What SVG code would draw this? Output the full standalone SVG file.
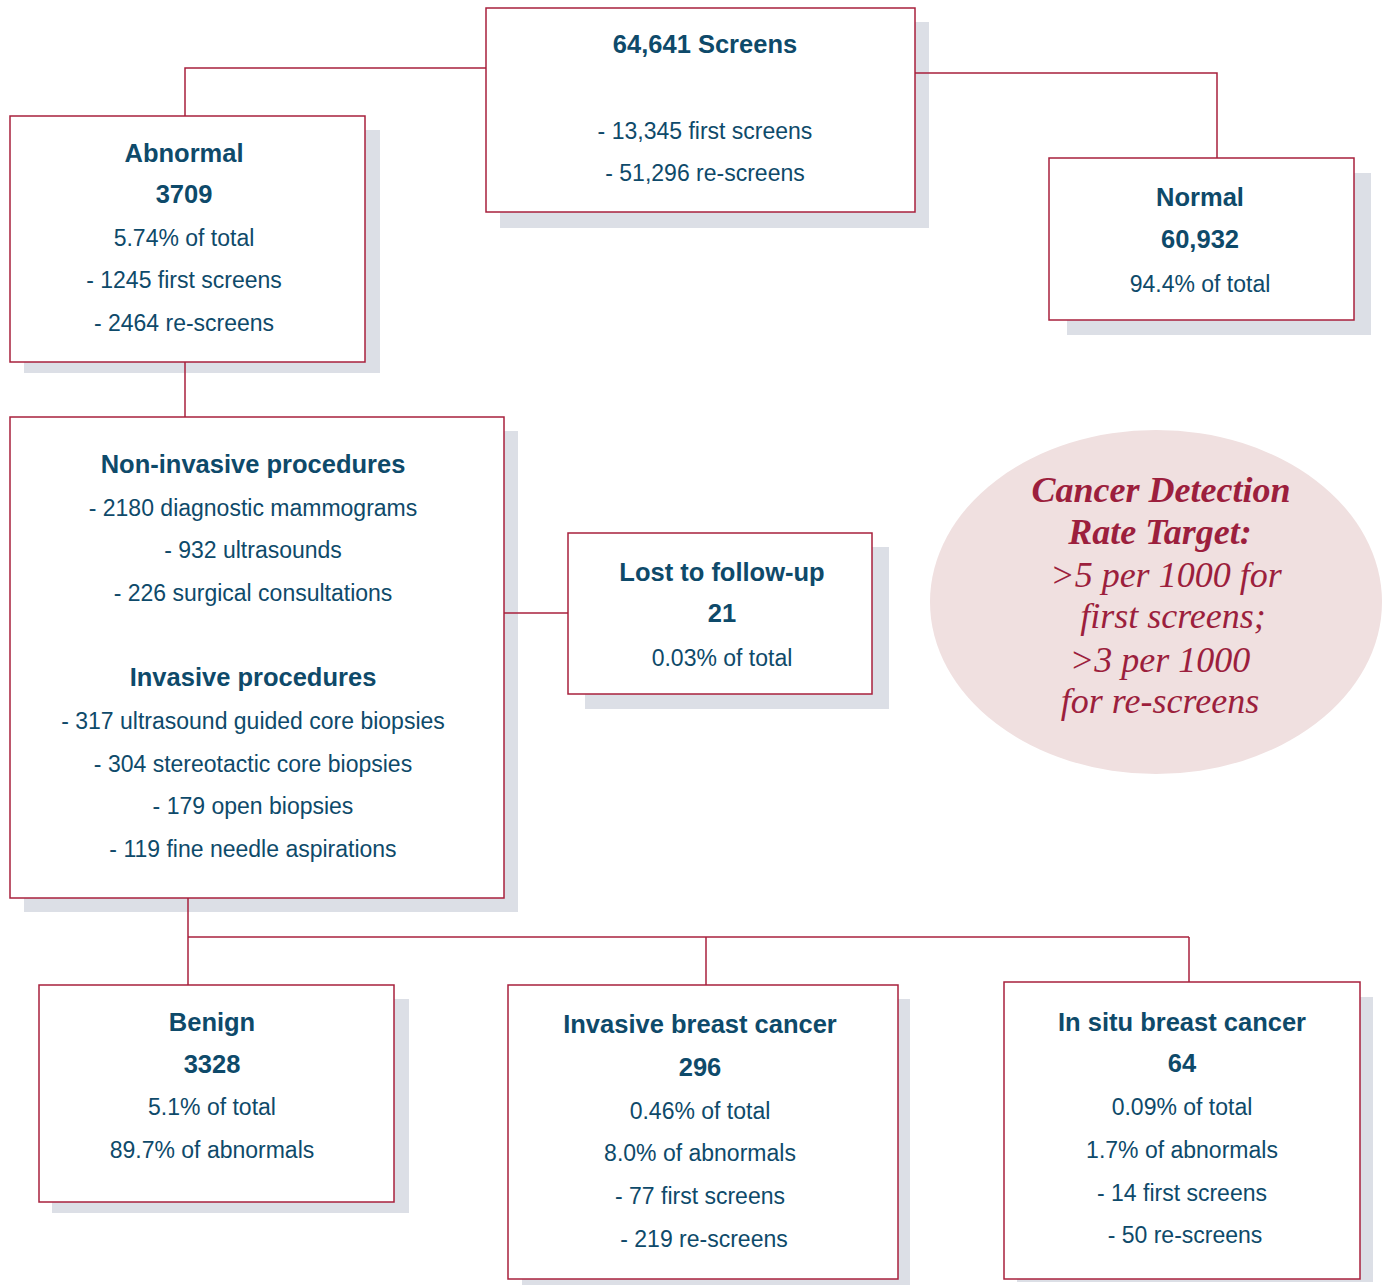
<svg xmlns="http://www.w3.org/2000/svg" width="1383" height="1285" viewBox="0 0 1383 1285">
<style>
.sh{fill:#dcdfe6}
.bx{fill:#fff;stroke:#a8203c;stroke-width:1.5}
.cn{fill:none;stroke:#a8203c;stroke-width:1.5}
text{font-family:"Liberation Sans",Arial,sans-serif;fill:#0e4a6a;text-anchor:middle}
.b{font-weight:bold;font-size:25.5px}
.r{font-size:23px}
.it{font-family:"Liberation Serif","Times New Roman",serif;font-style:italic;fill:#9c1f3d;font-size:36px}
.itb{font-weight:bold}
</style>
<rect width="1383" height="1285" fill="#fff"/>
<g id="screens">
<rect class="sh" x="500" y="22" width="429" height="206"/>
<rect class="bx" x="486" y="8" width="429" height="204"/>
<text class="b" x="705" y="53">64,641 Screens</text>
<text class="r" x="705" y="139">- 13,345 first screens</text>
<text class="r" x="705" y="181">- 51,296 re-screens</text>
</g>
<g id="abnormal">
<rect class="sh" x="24" y="130" width="356" height="243"/>
<rect class="bx" x="10" y="116" width="355" height="246"/>
<text class="b" x="184" y="162">Abnormal</text>
<text class="b" x="184" y="203">3709</text>
<text class="r" x="184" y="246">5.74% of total</text>
<text class="r" x="184" y="288">- 1245 first screens</text>
<text class="r" x="184" y="331">- 2464 re-screens</text>
</g>
<g id="normal">
<rect class="sh" x="1067" y="173" width="304" height="162"/>
<rect class="bx" x="1049" y="158" width="305" height="162"/>
<text class="b" x="1200" y="206">Normal</text>
<text class="b" x="1200" y="248">60,932</text>
<text class="r" x="1200" y="292">94.4% of total</text>
</g>
<g id="procedures">
<rect class="sh" x="24" y="431" width="494" height="481"/>
<rect class="bx" x="10" y="417" width="494" height="481"/>
<text class="b" x="253" y="473">Non-invasive procedures</text>
<text class="r" x="253" y="516">- 2180 diagnostic mammograms</text>
<text class="r" x="253" y="558">- 932 ultrasounds</text>
<text class="r" x="253" y="601">- 226 surgical consultations</text>
<text class="b" x="253" y="686">Invasive procedures</text>
<text class="r" x="253" y="729">- 317 ultrasound guided core biopsies</text>
<text class="r" x="253" y="772">- 304 stereotactic core biopsies</text>
<text class="r" x="253" y="814">- 179 open biopsies</text>
<text class="r" x="253" y="857">- 119 fine needle aspirations</text>
</g>
<g id="lost">
<rect class="sh" x="585" y="547" width="304" height="162"/>
<rect class="bx" x="568" y="533" width="304" height="161"/>
<text class="b" x="722" y="581">Lost to follow-up</text>
<text class="b" x="722" y="622">21</text>
<text class="r" x="722" y="666">0.03% of total</text>
</g>
<g id="target">
<ellipse cx="1156" cy="602" rx="226" ry="172" fill="#f0e0e0"/>
<text class="it itb" x="1161" y="502">Cancer Detection</text>
<text class="it itb" x="1160" y="544">Rate Target:</text>
<text class="it" x="1166" y="587">&gt;5 per 1000 for</text>
<text class="it" x="1173" y="628">first screens;</text>
<text class="it" x="1160" y="672">&gt;3 per 1000</text>
<text class="it" x="1160" y="713">for re-screens</text>
</g>
<g id="benign">
<rect class="sh" x="52" y="999" width="357" height="214"/>
<rect class="bx" x="39" y="985" width="355" height="217"/>
<text class="b" x="212" y="1031">Benign</text>
<text class="b" x="212" y="1073">3328</text>
<text class="r" x="212" y="1115">5.1% of total</text>
<text class="r" x="212" y="1158">89.7% of abnormals</text>
</g>
<g id="invasive">
<rect class="sh" x="522" y="999" width="388" height="286"/>
<rect class="bx" x="508" y="985" width="390" height="294"/>
<text class="b" x="700" y="1033">Invasive breast cancer</text>
<text class="b" x="700" y="1076">296</text>
<text class="r" x="700" y="1119">0.46% of total</text>
<text class="r" x="700" y="1161">8.0% of abnormals</text>
<text class="r" x="700" y="1204">- 77 first screens</text>
<text class="r" x="704" y="1247">- 219 re-screens</text>
</g>
<g id="insitu">
<rect class="sh" x="1017" y="997" width="356" height="285"/>
<rect class="bx" x="1004" y="982" width="356" height="297"/>
<text class="b" x="1182" y="1031">In situ breast cancer</text>
<text class="b" x="1182" y="1072">64</text>
<text class="r" x="1182" y="1115">0.09% of total</text>
<text class="r" x="1182" y="1158">1.7% of abnormals</text>
<text class="r" x="1182" y="1201">- 14 first screens</text>
<text class="r" x="1185" y="1243">- 50 re-screens</text>
</g>
<g id="connectors">
<polyline class="cn" points="486,68 185,68 185,116"/>
<polyline class="cn" points="915,73 1217,73 1217,158"/>
<line class="cn" x1="185" y1="362" x2="185" y2="417"/>
<line class="cn" x1="504" y1="613" x2="568" y2="613"/>
<line class="cn" x1="188" y1="898" x2="188" y2="985"/>
<line class="cn" x1="188" y1="937" x2="1189" y2="937"/>
<line class="cn" x1="706" y1="937" x2="706" y2="985"/>
<line class="cn" x1="1189" y1="937" x2="1189" y2="982"/>
</g>
</svg>
